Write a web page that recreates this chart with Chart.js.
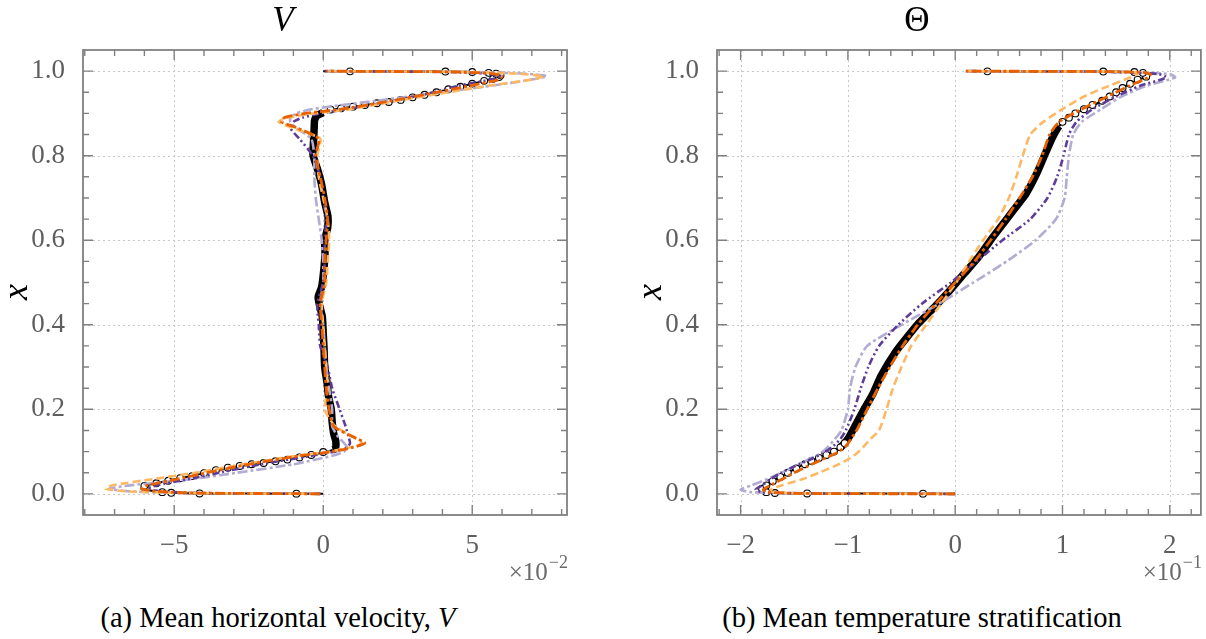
<!DOCTYPE html>
<html>
<head>
<meta charset="utf-8">
<script src="https://cdn.jsdelivr.net/npm/chart.js@4.4.1/dist/chart.umd.min.js"></script>
<style>
  body { margin: 0; background: #fff; width: 1206px; height: 639px; position: relative; overflow: hidden; font-family: "Liberation Serif", serif; }
  .wrap { position: absolute; top: 0; height: 600px; }
  #wrapA { left: 0; width: 603px; }
  #wrapB { left: 634px; width: 572px; }
  .cap { position: absolute; top: 602px; height: 32px; line-height: 32px; font-size: 28.5px; color: #000; text-align: center; white-space: nowrap; }
</style>
</head>
<body>
<div class="wrap" id="wrapA"><canvas id="chartV"></canvas></div>
<div class="wrap" id="wrapB"><canvas id="chartT"></canvas></div>
<div class="cap" style="left:78px;width:400px">(a) Mean horizontal velocity, <i>V</i></div>
<div class="cap" style="left:622px;width:600px">(b) Mean temperature stratification</div>
<script>
// ---------- (a) mean horizontal velocity V (x1e-2) ----------
const vHeights = [0, 0.002, 0.006, 0.012, 0.02, 0.035, 0.05, 0.07, 0.09, 0.1, 0.11, 0.12, 0.135, 0.16, 0.2,
  0.25, 0.3, 0.35, 0.4, 0.45, 0.5, 0.55, 0.6, 0.65, 0.7, 0.75, 0.8, 0.84, 0.865, 0.88,
  0.89, 0.9, 0.91, 0.93, 0.95, 0.965, 0.98, 0.988, 0.994, 0.998, 1.0];
const vDarkOrange = [-0.1, -4.3, -5.6, -6.1, -5.9, -4.9, -3.9, -2.5, -0.8, 0.3, 1.0, 1.4, 1.0, 0.35, 0.2,
  0.1, 0.05, 0.0, -0.05, -0.1, 0.05, 0.05, 0.1, 0.15, 0.05, -0.1, -0.25, -0.15, -0.85, -1.4,
  -1.3, -0.6, 0.6, 2.3, 3.8, 4.9, 5.9, 6.0, 5.7, 4.5, 0.1];
const vLightOrange = [-0.2, -4.6, -6.6, -7.3, -7.1, -5.7, -4.3, -2.7, -0.9, 0.2, 0.9, 1.3, 1.0, 0.4, 0.05,
  0.15, 0.1, 0.05, 0.0, -0.05, 0.1, 0.15, 0.2, 0.15, 0.0, -0.15, -0.2, -0.1, -1.0, -1.5,
  -1.2, -0.3, 0.9, 2.5, 4.2, 5.5, 7.0, 7.4, 6.5, 4.8, 0.2];
const vDarkPurple = [-0.1, -4.2, -5.5, -5.9, -5.6, -4.5, -3.5, -2.1, -0.4, 0.4, 0.8, 0.9, 0.85, 0.75, 0.55,
  0.3, 0.15, -0.1, -0.15, -0.2, 0.0, 0.05, 0.05, 0.1, 0.0, -0.1, -0.35, -0.8, -1.1, -1.0,
  -0.7, -0.1, 0.8, 2.4, 3.7, 4.5, 5.6, 6.0, 5.5, 4.2, 0.05];
const vLightPurple = [-0.1, -4.8, -6.5, -7.2, -6.5, -4.4, -2.9, -1.0, 0.3, 0.7, 0.8, 0.7, 0.5, 0.3, 0.3,
  0.2, 0.1, 0.05, 0.0, -0.1, 0.0, 0.0, -0.05, -0.15, -0.25, -0.3, -0.3, -0.4, -0.9, -1.1,
  -1.1, -0.9, -0.4, 1.8, 4.0, 5.6, 7.0, 7.5, 6.8, 5.0, 0.1];
const vRefHeights = [0, 0.0005, 0.001, 0.0025, 0.004, 0.008, 0.014, 0.019, 0.03, 0.04, 0.05, 0.061, 0.072, 0.084, 0.095,
  0.104, 0.11, 0.125, 0.143, 0.17, 0.2, 0.23, 0.262, 0.3, 0.34, 0.38, 0.419, 0.445, 0.466, 0.49,
  0.537, 0.57, 0.6, 0.63, 0.656, 0.69, 0.734, 0.77, 0.801, 0.84, 0.87, 0.884, 0.895, 0.902, 0.908,
  0.916, 0.927, 0.938, 0.95, 0.963, 0.977, 0.986, 0.99, 0.994, 0.996, 0.998, 0.999, 0.9995, 1.0];
const vRef = [0, -0.9, -4.15, -5.1, -5.4, -5.8, -6.1, -6.0, -5.3, -4.6, -3.95, -3.25, -2.1, -1.0, -0.2,
  0.32, 0.42, 0.42, 0.35, 0.3, 0.27, 0.18, 0.13, 0.05, 0.03, 0.0, -0.03, -0.12, -0.17, -0.05,
  0.03, 0.06, 0.05, 0.15, 0.16, 0.05, -0.06, -0.2, -0.34, -0.32, -0.3, -0.29, -0.2, 0.0, 0.2,
  1.0, 2.2, 3.0, 3.8, 4.6, 5.4, 5.9, 5.95, 5.8, 5.55, 5.0, 4.1, 0.9, 0.0];
const vMarkHeights = [0.0005, 0.001, 0.0025, 0.004, 0.012, 0.019, 0.025, 0.031, 0.037, 0.042, 0.049, 0.056, 0.062,
  0.066, 0.07, 0.073, 0.077, 0.081, 0.086, 0.092, 0.099,
  0.909, 0.912, 0.916, 0.92, 0.924, 0.927, 0.932, 0.938, 0.944, 0.95, 0.957, 0.963, 0.97, 0.977,
  0.982, 0.986, 0.99, 0.994, 0.996, 0.998, 0.999, 0.9995];
const vMark = [-0.9, -4.15, -5.1, -5.4, -5.95, -6.0, -5.6, -5.2, -4.8, -4.4, -4.0, -3.6, -3.2,
  -2.8, -2.4, -2.0, -1.6, -1.2, -0.8, -0.4, 0.0,
  0.25, 0.6, 1.0, 1.4, 1.8, 2.2, 2.6, 3.0, 3.4, 3.8, 4.2, 4.6, 5.0, 5.4,
  5.7, 5.9, 5.95, 5.8, 5.55, 5.0, 4.1, 0.9];
const vTickLabels = [-5, 0, 5];

// ---------- (b) mean temperature Theta (x1e-1) ----------
const tHeights = [0, 0.001, 0.004, 0.01, 0.02, 0.035, 0.05, 0.065, 0.08, 0.095, 0.11, 0.13, 0.15, 0.2, 0.25,
  0.3, 0.35, 0.4, 0.45, 0.5, 0.55, 0.6, 0.65, 0.7, 0.75, 0.8, 0.85, 0.88, 0.91, 0.94,
  0.965, 0.985, 0.993, 0.997, 0.999, 1.0];
const tDarkOrange = [0, -1.4, -1.75, -1.79, -1.72, -1.61, -1.5, -1.38, -1.25, -1.12, -1.03, -0.97, -0.92, -0.82, -0.72,
  -0.61, -0.49, -0.35, -0.18, 0.0, 0.18, 0.33, 0.47, 0.6, 0.72, 0.81, 0.88, 0.97, 1.18, 1.42,
  1.62, 1.8, 1.82, 1.75, 1.38, 0.1];
const tLightOrange = [0, -1.4, -1.7, -1.72, -1.62, -1.42, -1.27, -1.13, -1.01, -0.92, -0.86, -0.79, -0.71, -0.64, -0.58,
  -0.5, -0.41, -0.27, -0.13, 0.01, 0.13, 0.26, 0.4, 0.5, 0.57, 0.63, 0.7, 0.82, 1.0, 1.2,
  1.43, 1.63, 1.7, 1.68, 1.3, 0.1];
const tDarkPurple = [0, -1.4, -1.8, -1.86, -1.8, -1.72, -1.62, -1.5, -1.36, -1.24, -1.15, -1.07, -1.02, -0.94, -0.88,
  -0.81, -0.71, -0.53, -0.31, -0.04, 0.2, 0.44, 0.7, 0.86, 0.95, 1.01, 1.06, 1.13, 1.28, 1.5,
  1.72, 1.97, 1.9, 1.6, 1.2, 0.1];
const tLightPurple = [0, -1.4, -1.9, -2.0, -1.9, -1.75, -1.62, -1.5, -1.38, -1.26, -1.19, -1.12, -1.06, -1.0, -0.98,
  -0.93, -0.82, -0.5, -0.15, 0.17, 0.48, 0.75, 0.94, 1.02, 1.04, 1.06, 1.1, 1.18, 1.36, 1.55,
  1.78, 2.05, 2.0, 1.7, 1.2, 0.1];
const tRefHeights = [0, 0.0005, 0.001, 0.002, 0.004, 0.01, 0.016, 0.025, 0.035, 0.05, 0.065, 0.08, 0.095, 0.11, 0.13,
  0.167, 0.2, 0.235, 0.28, 0.336, 0.37, 0.404, 0.44, 0.481, 0.52, 0.561, 0.6, 0.642, 0.68, 0.71,
  0.758, 0.811, 0.845, 0.87, 0.892, 0.91, 0.927, 0.95, 0.971, 0.987, 0.993, 0.996, 0.998, 0.999, 0.9995, 1.0];
const tRef = [0, -0.3, -1.38, -1.68, -1.76, -1.8, -1.8, -1.73, -1.67, -1.56, -1.45, -1.33, -1.19, -1.07, -1.0,
  -0.92, -0.85, -0.77, -0.69, -0.555, -0.45, -0.34, -0.2, -0.05, 0.08, 0.22, 0.33, 0.456, 0.57, 0.66,
  0.76, 0.85, 0.91, 0.97, 1.07, 1.2, 1.35, 1.5, 1.63, 1.78, 1.8, 1.75, 1.67, 1.38, 0.3, 0.1];
const tMarkHeights = [0.0005, 0.001, 0.002, 0.004, 0.012, 0.02, 0.03, 0.04, 0.05, 0.06, 0.07, 0.078, 0.085, 0.092,
  0.1, 0.11, 0.12,
  0.88, 0.89, 0.9, 0.91, 0.92, 0.93, 0.94, 0.95, 0.96, 0.97, 0.98, 0.987, 0.996, 0.998, 0.999, 0.9995];
const tMark = [-0.3, -1.38, -1.68, -1.76, -1.8, -1.76, -1.7, -1.63, -1.56, -1.48, -1.4, -1.34, -1.27, -1.2,
  -1.13, -1.07, -1.03,
  1.0, 1.06, 1.12, 1.2, 1.28, 1.37, 1.44, 1.5, 1.56, 1.63, 1.7, 1.78, 1.75, 1.67, 1.38, 0.3];
const tTickLabels = [-2, -1, 0, 1, 2];

const heightTickLabels = [0, 0.2, 0.4, 0.6, 0.8, 1.0];

Chart.defaults.font.family = '"Liberation Serif", serif';

const pts = (vals, hs) => vals.map((v, i) => ({ x: v, y: hs[i] }));
const minus = s => String(s).replace('-', '\u2212');

function minorList(min, max, step) {
  const out = [];
  for (let k = Math.ceil(min / step - 1e-9); k * step <= max + 1e-9; k++) out.push(+(k * step).toFixed(4));
  return out;
}

const framePlugin = {
  id: 'frame',
  beforeDatasetsDraw(chart, args, o) {
    const { ctx, chartArea: a, scales: { x, y } } = chart;
    ctx.save();
    ctx.strokeStyle = '#c8c8c8';
    ctx.lineWidth = 1;
    ctx.setLineDash([2, 3]);
    x.ticks.forEach(t => {
      const p = Math.round(x.getPixelForValue(t.value)) + 0.5;
      ctx.beginPath(); ctx.moveTo(p, a.top); ctx.lineTo(p, a.bottom); ctx.stroke();
    });
    y.ticks.forEach(t => {
      const p = Math.round(y.getPixelForValue(t.value)) + 0.5;
      ctx.beginPath(); ctx.moveTo(a.left, p); ctx.lineTo(a.right, p); ctx.stroke();
    });
    ctx.restore();
  },
  afterDatasetsDraw(chart, args, o) {
    const { ctx, chartArea: a, scales: { x, y } } = chart;
    ctx.save();
    ctx.strokeStyle = '#808080';
    ctx.lineWidth = 1.4;
    const xMaj = x.ticks.map(t => t.value);
    const yMaj = y.ticks.map(t => t.value);
    minorList(x.min, x.max, o.minorX).forEach(v => {
      const p = x.getPixelForValue(v);
      if (p < a.left + 1 || p > a.right - 1) return;
      const len = xMaj.some(m => Math.abs(m - v) < o.minorX / 10) ? 10 : 6;
      ctx.beginPath();
      ctx.moveTo(p, a.bottom); ctx.lineTo(p, a.bottom - len);
      ctx.moveTo(p, a.top); ctx.lineTo(p, a.top + len);
      ctx.stroke();
    });
    minorList(y.min, y.max, o.minorY).forEach(v => {
      const p = y.getPixelForValue(v);
      if (p < a.top + 1 || p > a.bottom - 1) return;
      const len = yMaj.some(m => Math.abs(m - v) < o.minorY / 10) ? 10 : 6;
      ctx.beginPath();
      ctx.moveTo(a.left, p); ctx.lineTo(a.left + len, p);
      ctx.moveTo(a.right, p); ctx.lineTo(a.right - len, p);
      ctx.stroke();
    });
    ctx.lineWidth = 1.8;
    ctx.strokeRect(a.left, a.top, a.right - a.left, a.bottom - a.top);

    // title above the panel
    ctx.fillStyle = '#000';
    ctx.textAlign = 'center';
    ctx.textBaseline = 'middle';
    ctx.font = (o.titleItalic ? 'italic ' : '') + '35px "Liberation Serif"';
    ctx.fillText(o.title, a.left + 0.413 * (a.right - a.left), 22);

    // vertical axis name
    ctx.save();
    ctx.translate(18, 292);
    ctx.rotate(-Math.PI / 2);
    ctx.font = 'italic 36px "Liberation Serif"';
    ctx.fillText('x', 0, 0);
    ctx.restore();

    // offset multiplier under the right end of the x axis
    ctx.fillStyle = '#6a6a6a';
    ctx.textAlign = 'left';
    ctx.textBaseline = 'alphabetic';
    ctx.font = '18px "Liberation Serif"';
    const ew = ctx.measureText(o.exp).width;
    ctx.font = '25px "Liberation Serif"';
    const bw = ctx.measureText('\u00d710').width;
    const x0 = a.right + 1 - ew - bw - 1;
    ctx.fillText('\u00d710', x0, 580);
    ctx.font = '18px "Liberation Serif"';
    ctx.fillText(o.exp, x0 + bw + 1, 568);
    ctx.restore();
  }
};

function lineSet(label, vals, hs, color, dash, width) {
  return {
    label, data: pts(vals, hs), showLine: true, borderColor: color, borderWidth: width,
    borderDash: dash, pointRadius: 0, tension: 0.2, fill: false
  };
}

function makeChart(id, cfg) {
  const ctx = document.getElementById(id).getContext('2d');
  return new Chart(ctx, {
    type: 'scatter',
    data: {
      datasets: [
        lineSet('dark orange', cfg.darkOrange, cfg.heights, '#e66101', [10, 3, 3, 3], 2.8),
        lineSet('light orange', cfg.lightOrange, cfg.heights, '#fdb863', [8, 4], 2.6),
        lineSet('dark purple', cfg.darkPurple, cfg.heights, '#5e3c99', [7, 3, 2, 3, 2, 3], 2.6),
        lineSet('light purple', cfg.lightPurple, cfg.heights, '#b2abd2', [10, 3, 3, 3], 2.6),
        {
          label: 'markers', data: pts(cfg.mark, cfg.markHeights), showLine: false,
          pointRadius: 3.4, pointBackgroundColor: '#fff', pointBorderColor: '#000', pointBorderWidth: 1.1
        },
        {
          label: 'reference', data: pts(cfg.ref, cfg.refHeights), showLine: true,
          borderColor: '#000', borderWidth: 2, pointRadius: 0, tension: 0.2, fill: false,
          segment: {
            borderWidth: c => (c.p0.parsed.y >= cfg.band[0] && c.p1.parsed.y <= cfg.band[1]) ? 7.5 : 2
          }
        }
      ]
    },
    options: {
      responsive: true,
      maintainAspectRatio: false,
      animation: false,
      events: [],
      layout: { padding: { top: 50, right: cfg.padRight, left: 0, bottom: 0 } },
      plugins: {
        legend: { display: false },
        tooltip: { enabled: false },
        frame: { minorX: cfg.minorX, minorY: 0.05, title: cfg.title, titleItalic: cfg.titleItalic, exp: cfg.exp }
      },
      scales: {
        x: {
          type: 'linear', min: cfg.xMin, max: cfg.xMax,
          afterBuildTicks: s => { s.ticks = cfg.ticks.map(v => ({ value: v })); },
          afterFit: s => { s.height = 85; },
          grid: { display: false },
          border: { display: false },
          ticks: { padding: 7, color: '#5e5e5e', font: { size: 27 }, maxRotation: 0, callback: v => minus(v) }
        },
        y: {
          type: 'linear', min: -0.05, max: 1.05,
          afterBuildTicks: s => { s.ticks = heightTickLabels.map(v => ({ value: v })); },
          afterFit: s => { s.width = 83; },
          grid: { display: false },
          border: { display: false },
          ticks: { padding: 10, color: '#5e5e5e', font: { size: 27 }, callback: v => v.toFixed(1) }
        }
      }
    },
    plugins: [framePlugin]
  });
}

makeChart('chartV', {
  heights: vHeights, darkOrange: vDarkOrange, lightOrange: vLightOrange,
  darkPurple: vDarkPurple, lightPurple: vLightPurple,
  ref: vRef, refHeights: vRefHeights, mark: vMark, markHeights: vMarkHeights,
  band: [0.104, 0.902], ticks: vTickLabels, xMin: -8.06, xMax: 8.18, minorX: 1,
  padRight: 36, title: 'V', titleItalic: true, exp: '\u22122'
});

makeChart('chartT', {
  heights: tHeights, darkOrange: tDarkOrange, lightOrange: tLightOrange,
  darkPurple: tDarkPurple, lightPurple: tLightPurple,
  ref: tRef, refHeights: tRefHeights, mark: tMark, markHeights: tMarkHeights,
  band: [0.11, 0.89], ticks: tTickLabels, xMin: -2.22, xMax: 2.29, minorX: 0.2,
  padRight: 4, title: '\u0398', titleItalic: false, exp: '\u22121'
});
</script>
</body>
</html>
